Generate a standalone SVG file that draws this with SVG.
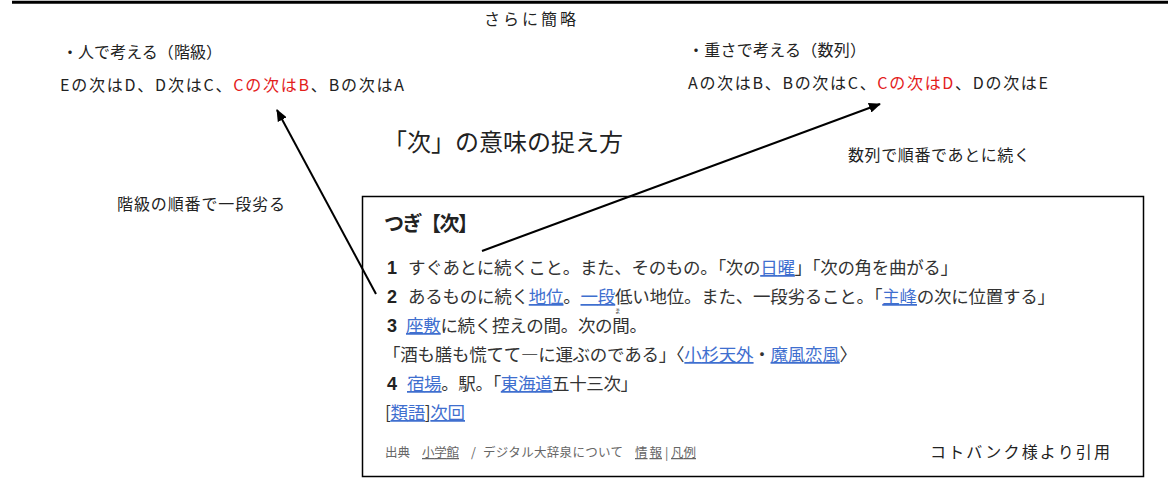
<svg xmlns="http://www.w3.org/2000/svg" width="1172" height="488" viewBox="0 0 1172 488">
<style>
.a{font-family:"Noto Sans CJK JP","Noto Sans",sans-serif;font-size:16px;fill:#222}
.r{fill:#e3201b}
.t{font-family:"Noto Sans CJK JP","Noto Sans",sans-serif;font-size:24px;fill:#222}
.h{font-family:"Noto Sans CJK JP","Noto Sans",sans-serif;font-size:20px;font-weight:bold;fill:#222}
.n{font-family:"Liberation Sans","Noto Sans",sans-serif;font-size:18px;font-weight:bold;fill:#222}
.d{font-family:"Noto Sans CJK JP","Noto Sans",sans-serif;font-size:17.5px;fill:#333}
.l{fill:#3f6fcf;text-decoration:underline}
.f{font-family:"Noto Sans CJK JP","Noto Sans",sans-serif;font-size:12.5px;fill:#666}
.ln{stroke:#000;stroke-width:2;fill:none}
</style>
<defs>
<marker id="ah" markerWidth="12" markerHeight="10" refX="11" refY="5" orient="auto" markerUnits="userSpaceOnUse">
<path d="M0,0 L12,5 L0,10 Z" fill="#000"/>
</marker>
</defs>
<line x1="12" y1="2.3" x2="1168" y2="2.3" stroke="#000" stroke-width="3"/>
<g id="title-simplify"><text class="a" x="484" y="25" textLength="92">さらに簡略</text></g>
<g id="left-heading"><text class="a" x="62" y="58" textLength="160">・人で考える（階級）</text></g>
<g id="left-seq"><text class="a" x="60" y="91" textLength="344">Eの次はD、D次はC、<tspan class="r">Cの次はB</tspan>、Bの次はA</text></g>
<g id="right-heading"><text class="a" x="688" y="56" textLength="178">・重さで考える（数列）</text></g>
<g id="right-seq"><text class="a" x="688" y="89" textLength="360">Aの次はB、Bの次はC、<tspan class="r">Cの次はD</tspan>、Dの次はE</text></g>
<g id="main-title"><text class="t" x="383" y="151" textLength="240">「次」の意味の捉え方</text></g>
<g id="label-right"><text class="a" x="848" y="161" textLength="182">数列で順番であとに続く</text></g>
<g id="label-left"><text class="a" x="117" y="210" textLength="168">階級の順番で一段劣る</text></g>
<g id="dict-box">
<rect x="362.5" y="196.5" width="781" height="280" fill="#fff" stroke="#000" stroke-width="1.5"/>
<text class="h" x="384" y="231" textLength="94">つぎ【次】</text>
<text class="n" x="387" y="274">1</text>
<text class="d" x="408" y="274" textLength="550">すぐあとに続くこと。また、そのもの。「次の<tspan class="l">日曜</tspan>」「次の角を曲がる」</text>
<text class="n" x="387" y="303">2</text>
<text class="d" x="408" y="303" textLength="647">あるものに続く<tspan class="l">地位</tspan>。<tspan class="l">一段</tspan>低い地位。また、一段劣ること。「<tspan class="l">主峰</tspan>の次に位置する」</text>
<text x="615" y="313" font-family="Noto Sans CJK JP,sans-serif" font-size="5.5" fill="#333">ま</text>
<text class="n" x="387" y="332">3</text>
<text class="d" x="406" y="332" textLength="241"><tspan class="l">座敷</tspan>に続く控えの間。次の間。</text>
<text class="d" x="383" y="361" textLength="474">「酒も膳も慌てて―に運ぶのである」〈<tspan class="l">小杉天外</tspan>・<tspan class="l">魔風恋風</tspan>〉</text>
<text class="n" x="387" y="390">4</text>
<text class="d" x="407" y="390" textLength="231"><tspan class="l">宿場</tspan>。駅。「<tspan class="l">東海道</tspan>五十三次」</text>
<text class="d" x="385" y="419" textLength="80">[<tspan class="l">類語</tspan>]<tspan class="l">次回</tspan></text>
<text class="f" x="385" y="457">出典</text>
<text class="f l" x="422" y="457" textLength="37">小学館</text>
<text class="f" x="471" y="457">/</text>
<text class="f" x="483" y="457" textLength="140">デジタル大辞泉について</text>
<text class="f l" x="635" y="457" textLength="27">情報</text>
<text class="f" x="665" y="457">|</text>
<text class="f l" x="671" y="457" textLength="25">凡例</text>
<text class="a" x="930" y="458" textLength="180">コトバンク様より引用</text>
</g>
<g id="connectors">
<line class="ln" x1="376" y1="294" x2="277" y2="110" marker-end="url(#ah)"/>
<line class="ln" x1="482" y1="251" x2="880" y2="104" marker-end="url(#ah)"/>
</g>
</svg>
